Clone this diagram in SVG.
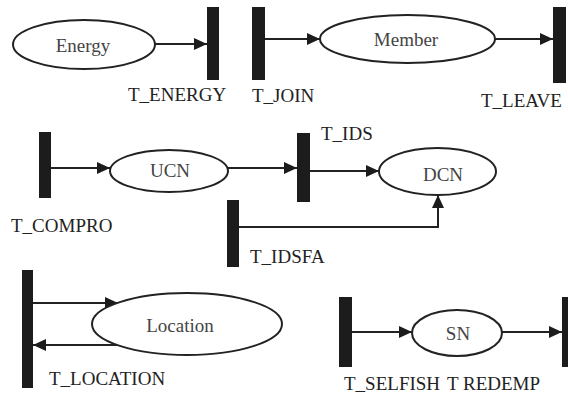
<svg xmlns="http://www.w3.org/2000/svg" width="568" height="405" viewBox="0 0 568 405">
<style>
.place ellipse{fill:#fff;stroke:#222;stroke-width:2}
.bar{fill:#1c1c1c}
.nt{font-family:'Liberation Serif','DejaVu Serif',serif;font-size:19px;fill:#444;text-anchor:middle}
.lb{font-family:'Liberation Serif','DejaVu Serif',serif;font-size:19px;fill:#222}
.arc{fill:none;stroke:#222;stroke-width:2;marker-end:url(#ah)}
</style>
<defs>
<marker id="ah" markerUnits="userSpaceOnUse" markerWidth="14" markerHeight="12" refX="13" refY="6" orient="auto">
<path d="M0,0 L13,6 L0,12 z" fill="#1c1c1c"/>
</marker>
</defs>
<rect width="568" height="405" fill="#fff"/>
<g id="connectors">
<line class="arc" x1="155" y1="44" x2="207" y2="44"/>
<line class="arc" x1="265" y1="39" x2="320" y2="39"/>
<line class="arc" x1="495" y1="39" x2="553" y2="39"/>
<line class="arc" x1="51" y1="168" x2="110" y2="168"/>
<line class="arc" x1="228" y1="168" x2="297" y2="168"/>
<line class="arc" x1="310" y1="171" x2="379" y2="171"/>
<polyline class="arc" points="239,227 438,227 438,195"/>
<line class="arc" x1="33" y1="303" x2="118" y2="303"/>
<line class="arc" x1="118" y1="345" x2="33" y2="345"/>
<line class="arc" x1="352" y1="332" x2="412" y2="332"/>
<line class="arc" x1="502" y1="332" x2="562" y2="332"/>
</g>
<g id="Energy" class="place"><ellipse cx="84" cy="44.5" rx="71" ry="24.5"/><text class="nt" x="83" y="52">Energy</text></g>
<g id="Member" class="place"><ellipse cx="407.5" cy="39" rx="87.5" ry="24"/><text class="nt" x="406" y="46">Member</text></g>
<g id="UCN" class="place"><ellipse cx="169" cy="171" rx="59" ry="21"/><text class="nt" x="170" y="177">UCN</text></g>
<g id="DCN" class="place"><ellipse cx="437.5" cy="171.5" rx="58.5" ry="23.5"/><text class="nt" x="443" y="181">DCN</text></g>
<g id="Location" class="place"><ellipse cx="187" cy="324" rx="95" ry="31"/><text class="nt" x="180" y="332">Location</text></g>
<g id="SN" class="place"><ellipse cx="457" cy="333" rx="45" ry="23"/><text class="nt" x="458" y="340">SN</text></g>
<g id="T_ENERGY"><rect class="bar" x="207" y="7" width="12" height="73"/><text class="lb" x="128" y="101">T_ENERGY</text></g>
<g id="T_JOIN"><rect class="bar" x="252" y="7" width="13" height="73"/><text class="lb" x="252" y="102">T_JOIN</text></g>
<g id="T_LEAVE"><rect class="bar" x="553" y="7" width="13" height="76"/><text class="lb" x="481" y="107">T_LEAVE</text></g>
<g id="T_COMPRO"><rect class="bar" x="39" y="132" width="12" height="66"/><text class="lb" x="11" y="232">T_COMPRO</text></g>
<g id="T_IDS"><rect class="bar" x="297" y="133" width="13" height="69"/><text class="lb" x="321" y="140">T_IDS</text></g>
<g id="T_IDSFA"><rect class="bar" x="227" y="200" width="12" height="67"/><text class="lb" x="250" y="263">T_IDSFA</text></g>
<g id="T_LOCATION"><rect class="bar" x="22" y="270" width="11" height="118"/><text class="lb" x="49" y="385">T_LOCATION</text></g>
<g id="T_SELFISH"><rect class="bar" x="339" y="297" width="13" height="70"/><text class="lb" x="344" y="390">T_SELFISH</text></g>
<g id="T_REDEMP"><rect class="bar" x="562" y="297" width="8" height="70"/><text class="lb" x="447" y="390">T REDEMP</text></g>
</svg>
